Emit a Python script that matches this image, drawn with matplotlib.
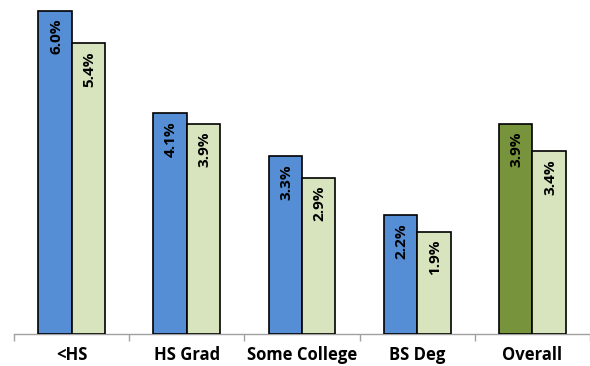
import matplotlib
matplotlib.use("Agg")
import matplotlib.pyplot as plt
import numpy as np

categories = ["<HS", "HS Grad", "Some College", "BS Deg", "Overall"]
series_a = [6.0, 4.1, 3.3, 2.2, 3.9]
series_b = [5.4, 3.9, 2.9, 1.9, 3.4]
labels_a = ["6.0%", "4.1%", "3.3%", "2.2%", "3.9%"]
labels_b = ["5.4%", "3.9%", "2.9%", "1.9%", "3.4%"]

blue = "#558ED5"
olive = "#77933C"
light = "#D7E4BD"
colors_a = [blue, blue, blue, blue, olive]

plt.rcParams['font.family'] = ['Open Sans', 'DejaVu Sans']

fig = plt.figure(figsize=(5.9, 3.66), dpi=100)
W, H = 590, 366
ax = fig.add_axes([14 / W, (H - 334) / H, 576 / W, 334 / H])

x = np.arange(len(categories))
bw = 0.29
ax.bar(x - bw / 2, series_a, bw, color=colors_a, edgecolor="black", linewidth=1.2, zorder=3)
ax.bar(x + bw / 2, series_b, bw, color=light, edgecolor="black", linewidth=1.2, zorder=3)

ax.set_xlim(-0.5, len(categories) - 0.5)
ax.set_ylim(0, 6.2)

for i in range(len(categories)):
    ax.text(x[i] - bw / 2 + 0.01, series_a[i] - 0.15, labels_a[i], rotation=90,
            ha="center", va="top", fontsize=11, fontweight="bold", color="black", zorder=4)
    ax.text(x[i] + bw / 2 + 0.01, series_b[i] - 0.15, labels_b[i], rotation=90,
            ha="center", va="top", fontsize=11, fontweight="bold", color="black", zorder=4)

for s in ["top", "right", "left"]:
    ax.spines[s].set_visible(False)
ax.spines["bottom"].set_color("#A0A0A0")
ax.spines["bottom"].set_linewidth(1.0)
ax.set_yticks([])

ax.set_xticks(np.arange(-0.5, len(categories) + 0.5, 1.0))
ax.set_xticklabels([])
ax.set_xticks(x, minor=True)
ax.set_xticklabels(categories, minor=True, fontsize=12, fontweight="bold")
ax.tick_params(axis="x", which="major", length=5, color="#A0A0A0", width=1)
ax.tick_params(axis="x", which="minor", length=0, pad=9)

fig.savefig("out.png", dpi=100)
